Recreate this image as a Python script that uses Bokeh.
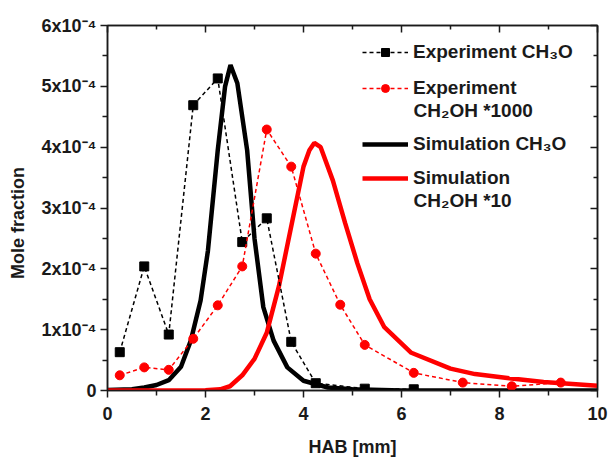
import numpy as np
from bokeh.plotting import figure
from bokeh.models import (Range1d, LinearAxis, FixedTicker,
                          CustomJSTickFormatter, Legend, LegendItem, Label)
from bokeh.embed import file_html
from bokeh.resources import INLINE

SCALE = 1e-4  # values below are given in units of 1e-4 mole fraction

# Experiment: CH3O profile versus height above burner (mm)
exp_ch3o_hab = [0.25, 0.75, 1.25, 1.75, 2.25, 2.75, 3.25, 3.75, 4.25, 5.25, 6.25]
exp_ch3o = [0.63, 2.04, 0.92, 4.69, 5.13, 2.44, 2.83, 0.80, 0.12, 0.03, 0.02]

# Experiment: CH2OH profile (scaled by 1000)
exp_ch2oh_hab = [0.25, 0.75, 1.25, 1.75, 2.25, 2.75, 3.25, 3.75, 4.25, 4.75,
                 5.25, 6.25, 7.25, 8.25, 9.25]
exp_ch2oh = [0.25, 0.38, 0.34, 0.85, 1.40, 2.04, 4.29, 3.68, 2.25, 1.41,
             0.75, 0.29, 0.13, 0.07, 0.13]

# Simulation: CH3O
sim_ch3o_hab = [0.0, 0.5, 0.75, 1.0, 1.25, 1.5, 1.7, 1.9, 2.05, 2.25, 2.4, 2.51,
                2.65, 2.85, 3.0, 3.18, 3.39, 3.67, 4.0, 4.5, 5.0, 6.0, 10.0]
sim_ch3o = [0.01, 0.02, 0.05, 0.09, 0.17, 0.39, 0.82, 1.48, 2.30, 3.95, 5.00, 5.35,
            5.05, 3.95, 2.50, 1.37, 0.82, 0.38, 0.16, 0.05, 0.02, 0.0, 0.0]

# Simulation: CH2OH (scaled by 10)
sim_ch2oh_hab = [0.0, 1.0, 2.0, 2.3, 2.5, 2.75, 3.0, 3.25, 3.5, 3.75, 4.0, 4.12,
                 4.22, 4.35, 4.6, 4.85, 5.1, 5.35, 5.65, 6.2, 7.0, 7.5, 8.2, 8.9, 10.0]
sim_ch2oh = [0.0, 0.0, 0.003, 0.02, 0.07, 0.25, 0.52, 0.95, 1.72, 2.70, 3.68, 3.95,
             4.07, 4.00, 3.45, 2.75, 2.09, 1.50, 1.04, 0.62, 0.36, 0.27, 0.20, 0.14, 0.08]

# Axis ticks
x_major = [0, 2, 4, 6, 8, 10]
x_minor = [1, 3, 5, 7, 9]
y_major = [i / 1e4 for i in range(7)]
y_minor = [(i + 0.5) / 1e4 for i in range(6)]

FONT = "Liberation Sans"
INK = "#1a1a1a"

# trailing no-break spaces nudge the vertical title below the frame centre
p = figure(frame_width=490, frame_height=365, output_backend="svg",
           toolbar_location=None, x_range=Range1d(0, 10),
           y_range=Range1d(0, 6e-4),
           min_border_left=107, min_border_right=13,
           min_border_top=25, min_border_bottom=68,
           x_axis_label="HAB [mm]",
           y_axis_label="Mole fraction" + "\u00a0" * 6)
p.grid.visible = False
p.outline_line_color = INK
p.outline_line_width = 1.5
p.background_fill_color = "white"
p.border_fill_color = "white"

xt = FixedTicker(ticks=x_major, minor_ticks=x_minor)
yt = FixedTicker(ticks=y_major, minor_ticks=y_minor)
yfmt = CustomJSTickFormatter(code="""
    const n = Math.round(tick / 1e-4);
    if (n == 0) return "0";
    return n + "x10\u207B\u2074";
""")
blank = CustomJSTickFormatter(code="return '';")

xa = p.xaxis[0]
ya = p.yaxis[0]
xa.ticker = xt
ya.ticker = yt
ya.formatter = yfmt
for ax in (xa, ya):
    ax.axis_line_color = INK
    ax.axis_line_width = 1.5
    ax.major_tick_line_color = INK
    ax.minor_tick_line_color = INK
    ax.major_tick_line_width = 1.5
    ax.minor_tick_line_width = 1.5
    ax.major_tick_out = 7
    ax.major_tick_in = 0
    ax.minor_tick_out = 5
    ax.minor_tick_in = 0
    ax.major_label_text_font = FONT
    ax.major_label_text_font_style = "bold"
    ax.major_label_text_font_size = "18px"
    ax.major_label_text_color = INK
    ax.axis_label_text_font = FONT
    ax.axis_label_text_font_style = "bold"
    ax.axis_label_text_font_size = "18px"
    ax.axis_label_text_color = INK
xa.major_label_standoff = 9
xa.axis_label_standoff = 14
ya.major_label_standoff = 4
ya.axis_label_standoff = 11

# Mirror axes on top and right with inward ticks and no labels
for loc, tk in (("above", xt), ("right", yt)):
    ax = LinearAxis(ticker=tk, formatter=blank)
    ax.axis_line_color = INK
    ax.axis_line_width = 1.5
    ax.major_tick_line_color = INK
    ax.minor_tick_line_color = INK
    ax.major_tick_line_width = 1.5
    ax.minor_tick_line_width = 1.5
    ax.major_tick_out = 0
    ax.major_tick_in = 7
    ax.minor_tick_out = 0
    ax.minor_tick_in = 4
    ax.major_label_text_color = None
    ax.major_label_standoff = 0
    p.add_layout(ax, loc)

s = np.array
r_sim1 = p.line(sim_ch3o_hab, s(sim_ch3o) * SCALE, line_color="black", line_width=4.5)
r_sim2 = p.line(sim_ch2oh_hab, s(sim_ch2oh) * SCALE, line_color="red", line_width=4.5)

r_e1l = p.line(exp_ch3o_hab, s(exp_ch3o) * SCALE, line_color="black",
               line_width=1.5, line_dash="4 3")
r_e1m = p.scatter(exp_ch3o_hab, s(exp_ch3o) * SCALE, marker="square", size=9,
                  fill_color="black", line_color="black")
r_e2l = p.line(exp_ch2oh_hab, s(exp_ch2oh) * SCALE, line_color="red",
               line_width=1.5, line_dash="4 3")
r_e2m = p.scatter(exp_ch2oh_hab, s(exp_ch2oh) * SCALE, marker="circle", size=9,
                  fill_color="red", line_color="red")


def make_legend(items, loc, spacing):
    lg = Legend(items=items, location=loc, padding=0, margin=0, spacing=spacing,
                border_line_color=None, background_fill_alpha=0,
                glyph_width=46, glyph_height=20, label_height=20,
                label_standoff=5, label_text_font=FONT,
                label_text_font_style="bold", label_text_font_size="19px",
                label_text_color=INK)
    p.add_layout(lg)
    return lg


make_legend([LegendItem(label="Experiment CH\u2083O", renderers=[r_e1l, r_e1m]),
             LegendItem(label="Experiment", renderers=[r_e2l, r_e2m])],
            (255, 291), 14)
make_legend([LegendItem(label="Simulation CH\u2083O", renderers=[r_sim1]),
             LegendItem(label="Simulation", renderers=[r_sim2])],
            (255, 201), 12)

for txt, yy in (("CH\u2082OH *1000", 280), ("CH\u2082OH *10", 190)):
    p.add_layout(Label(x=306, y=yy, x_units="screen", y_units="screen", text=txt,
                       text_baseline="middle", text_font=FONT,
                       text_font_style="bold", text_font_size="19px",
                       text_color=INK))

open("out.html", "w").write(file_html(p, INLINE))
